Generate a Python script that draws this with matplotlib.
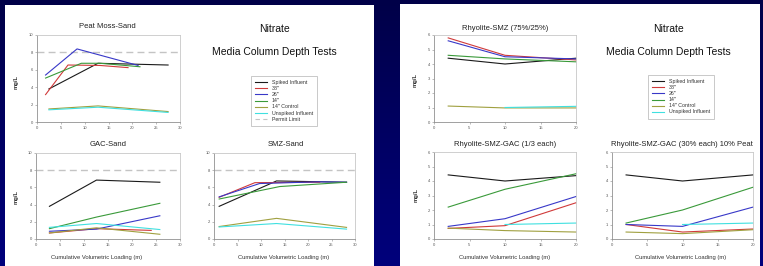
import numpy as np
import matplotlib
matplotlib.use("Agg")
import matplotlib.pyplot as plt
from matplotlib.lines import Line2D
from matplotlib.patches import Rectangle

plt.rcParams['font.family'] = ['Liberation Sans', 'DejaVu Sans']

W, H = 763, 266

series_names = ['Spiked Influent', '38"', '26"', '14"', '14" Control', 'Unspiked Influent']
series_colors = ['#1a1a1a', '#d03a3a', '#3838c8', '#3a9a3a', '#a0a040', '#40e0e0']
permit_limit = 8

# (x, y) per series
peat_moss = {
    'Spiked Influent': ([2.5, 12.8, 27.5], [3.8, 6.75, 6.55]),
    '38"': ([1.8, 6.5, 13.2, 19.1], [3.15, 6.55, 6.5, 6.25]),
    '26"': ([1.8, 8.4, 21.2], [5.4, 8.4, 6.5]),
    '14"': ([1.8, 9.3, 13.2, 21.6], [5.05, 6.75, 6.75, 6.35]),
    '14" Control': ([2.5, 12.8, 27.5], [1.5, 1.85, 1.2]),
    'Unspiked Influent': ([2.5, 12.8, 27.5], [1.4, 1.7, 1.1]),
}
gac_sand = {
    'Spiked Influent': ([2.8, 12.6, 25.8], [3.8, 6.85, 6.6]),
    '38"': ([2.8, 12.6, 24.0], [0.7, 1.2, 1.0]),
    '26"': ([2.8, 12.6, 25.8], [0.9, 1.15, 2.7]),
    '14"': ([2.8, 12.6, 25.8], [1.2, 2.55, 4.15]),
    '14" Control': ([2.8, 12.6, 25.8], [0.7, 1.3, 0.55]),
    'Unspiked Influent': ([2.8, 12.6, 25.8], [1.35, 1.8, 1.1]),
}
smz_sand = {
    'Spiked Influent': ([1.1, 13.3, 28.2], [3.8, 6.75, 6.6]),
    '38"': ([1.1, 8.7, 22.5], [4.85, 6.55, 6.6]),
    '26"': ([1.1, 9.7, 22.5, 28.2], [4.9, 6.45, 6.65, 6.6]),
    '14"': ([1.1, 14.0, 28.2], [4.65, 6.1, 6.6]),
    '14" Control': ([1.1, 13.3, 28.2], [1.45, 2.4, 1.35]),
    'Unspiked Influent': ([1.1, 13.3, 28.2], [1.4, 1.8, 1.15]),
}
rhy_smz = {
    'Spiked Influent': ([2, 10, 20], [4.4, 4.0, 4.4]),
    '38"': ([2, 10, 20], [5.8, 4.6, 4.28]),
    '26"': ([2, 10, 20], [5.6, 4.5, 4.35]),
    '14"': ([2, 10, 20], [4.6, 4.35, 4.15]),
    '14" Control': ([2, 10, 20], [1.1, 0.97, 0.97]),
    'Unspiked Influent': ([10, 20], [1.0, 1.08]),
}
rhy_smz_gac = {
    'Spiked Influent': ([2, 10, 20], [4.42, 4.0, 4.37]),
    '38"': ([2, 10, 20], [0.73, 0.92, 2.5]),
    '26"': ([2, 10, 20], [0.87, 1.4, 2.93]),
    '14"': ([2, 10, 20], [2.2, 3.43, 4.5]),
    '14" Control': ([2, 10, 20], [0.75, 0.58, 0.48]),
    'Unspiked Influent': ([10, 20], [1.0, 1.1]),
}
rhy_peat = {
    'Spiked Influent': ([2, 10, 20], [4.42, 4.0, 4.42]),
    '38"': ([2, 10, 20], [1.0, 0.48, 0.69]),
    '26"': ([2, 10, 20], [1.0, 0.87, 2.2]),
    '14"': ([2, 10, 20], [1.1, 2.0, 3.57]),
    '14" Control': ([2, 10, 20], [0.48, 0.37, 0.64]),
    'Unspiked Influent': ([10, 20], [1.0, 1.1]),
}


def frac(x, y):
    return x / W, 1 - y / H


def rect(x0, x1, y0, y1):
    return [x0 / W, 1 - y1 / H, (x1 - x0) / W, (y1 - y0) / H]


fig = plt.figure(figsize=(W / 100, H / 100), dpi=100)

# navy slide background with two white panels
bg = fig.add_axes([0, 0, 1, 1])
grad = np.linspace(0, 1, 256).reshape(-1, 1)
bg.imshow(grad, extent=[0, W, H, 0], aspect='auto',
          cmap=matplotlib.colors.LinearSegmentedColormap.from_list('bg', ['#000048', '#00007c']))
bg.add_patch(Rectangle((5, 5), 369, 261, facecolor='white', edgecolor='none'))
bg.add_patch(Rectangle((400, 4), 360, 262, facecolor='white', edgecolor='none'))
bg.set_xlim(0, W)
bg.set_ylim(H, 0)
bg.axis('off')


def draw_panel(box, data, xmax, ymax, ystep, permit):
    ax = fig.add_axes(rect(*box))
    ax.set_facecolor('white')
    if permit:
        ax.axhline(permit_limit, color='#c4c4c4', lw=1.0, ls=(0, (5, 3)))
    for name, color in zip(series_names, series_colors):
        xs, ys = data[name]
        ax.plot(xs, ys, color=color, lw=0.8, clip_on=False)
    ax.set_xlim(0, xmax)
    ax.set_ylim(0, ymax)
    ax.set_xticks(np.arange(0, xmax + 1, 5))
    ax.set_yticks(np.arange(0, ymax + 1, ystep))
    for s in ax.spines.values():
        s.set_color('#c8c8c8')
        s.set_linewidth(0.6)
    ax.spines['left'].set_color('#909090')
    ax.spines['bottom'].set_color('#909090')
    ax.tick_params(labelsize=3, length=1.5, width=0.4, colors='#888888',
                   labelcolor='#555555', pad=1.5)
    return ax


draw_panel((37, 180, 35, 122), peat_moss, 30, 10, 2, True)
draw_panel((36, 180, 153, 239), gac_sand, 30, 10, 2, True)
draw_panel((214, 355, 153, 239), smz_sand, 30, 10, 2, True)
draw_panel((434, 576, 35, 122), rhy_smz, 20, 6, 1, False)
draw_panel((434, 576, 152, 239), rhy_smz_gac, 20, 6, 1, False)
draw_panel((612, 753, 152, 239), rhy_peat, 20, 6, 1, False)

# panel titles
titles = [('Peat Moss-Sand', 107, 27), ('GAC-Sand', 108, 144), ('SMZ-Sand', 286, 144),
          ('Rhyolite-SMZ (75%/25%)', 505, 28), ('Rhyolite-SMZ-GAC (1/3 each)', 505, 144),
          ('Rhyolite-SMZ-GAC (30% each) 10% Peat', 682, 144)]
for t, x, y in titles:
    fig.text(*frac(x, y), t, fontsize=5.5, ha='center', va='center', color='#222222')

xlab = 'Cumulative Volumetric Loading (m)'
for x in [97, 284, 505, 681]:
    fig.text(*frac(x, 257), xlab, fontsize=4.2, ha='center', va='center', color='#333333')

for x, y in [(16, 82), (16, 197), (415, 80), (416, 195)]:
    fig.text(*frac(x, y), 'mg/L', fontsize=4.2, rotation=90, ha='center', va='center',
             color='#333333', weight='bold')

for cx in [274, 668]:
    fig.text(*frac(cx, 29), 'Nitrate', fontsize=7.5, ha='center', va='center', color='#111111')
    fig.text(*frac(cx, 52), 'Media Column Depth Tests', fontsize=7.5, ha='center', va='center',
             color='#111111')

handles = [Line2D([], [], color=c, lw=0.8) for c in series_colors]
leg_left = fig.legend(handles + [Line2D([], [], color='#c4c4c4', lw=0.8, ls=(0, (4, 3)))],
                      series_names + ['Permit Limit'], loc='upper left',
                      bbox_to_anchor=frac(251, 76), borderaxespad=0, fontsize=3.8,
                      labelspacing=0.2, handlelength=2.3, handletextpad=0.8,
                      borderpad=0.8, frameon=True, fancybox=False)
leg_right = fig.legend(handles, series_names, loc='upper left',
                       bbox_to_anchor=frac(648, 75), borderaxespad=0, fontsize=3.8,
                       labelspacing=0.2, handlelength=2.3, handletextpad=0.8,
                       borderpad=0.8, frameon=True, fancybox=False)
for leg in (leg_left, leg_right):
    leg.get_frame().set_edgecolor('#b0b0b0')
    leg.get_frame().set_linewidth(0.6)
    for txt in leg.get_texts():
        txt.set_color('#333333')

fig.savefig('out.png', dpi=100)
